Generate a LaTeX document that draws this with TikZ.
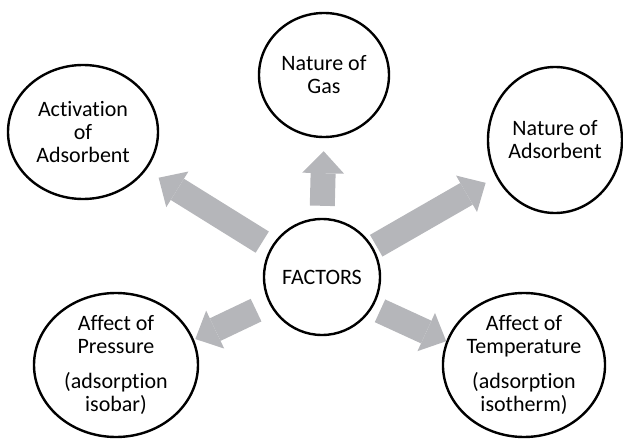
\documentclass[tikz,border=0pt]{standalone}
\usepackage{fontspec}
\setmainfont{Carlito}[Ligatures=NoCommon]
\usetikzlibrary{shapes.geometric,arrows.meta}
\definecolor{arrowgray}{RGB}{181,182,186}
\begin{document}
\begin{tikzpicture}[x=0.5pt,y=-0.5pt,
  factor/.style={ellipse,draw,line width=1.2pt,inner sep=0pt,align=center,
    font=\fontsize{11}{11.5}\selectfont},
  bigarrow/.style={draw=arrowgray,line width=12.5pt,
    -{Triangle[width=21pt,length=11pt,line width=0pt]}}]
\useasboundingbox (0,0) rectangle (623,439);
\node[factor,minimum width=58pt,minimum height=58pt] (factors) at (322,277) {FACTORS};
\node[factor,minimum width=75pt,minimum height=67pt] (act) at (83,132) {Activation\\of\\Adsorbent};
\node[factor,minimum width=65pt,minimum height=62pt] (gas) at (324,75) {Nature of\\Gas};
\node[factor,minimum width=67pt,minimum height=73pt] (natads) at (555,140) {Nature of\\Adsorbent};
\node[factor,minimum width=82pt,minimum height=72pt] (pres) at (116,365) {Affect of\\Pressure\\[6pt](adsorption\\isobar)};
\node[factor,minimum width=81pt,minimum height=72pt] (temp) at (524,365) {Affect of\\Temperature\\[6pt](adsorption\\isotherm)};

\draw[bigarrow,shorten <=5pt,shorten >=7.3pt] (factors.150) -- (act.-31.9);
\draw[bigarrow,shorten <=6pt,shorten >=6.5pt] (factors.90) -- (gas.-90);
\draw[bigarrow,shorten <=1.7pt,shorten >=5.9pt] (factors.30.3) -- (natads.-148.7);
\draw[bigarrow,shorten <=7.3pt,shorten >=0.7pt] (factors.207.4) -- (pres.18.4);
\draw[bigarrow,shorten <=4pt] (factors.-31) -- (temp.163);
\end{tikzpicture}
\end{document}
